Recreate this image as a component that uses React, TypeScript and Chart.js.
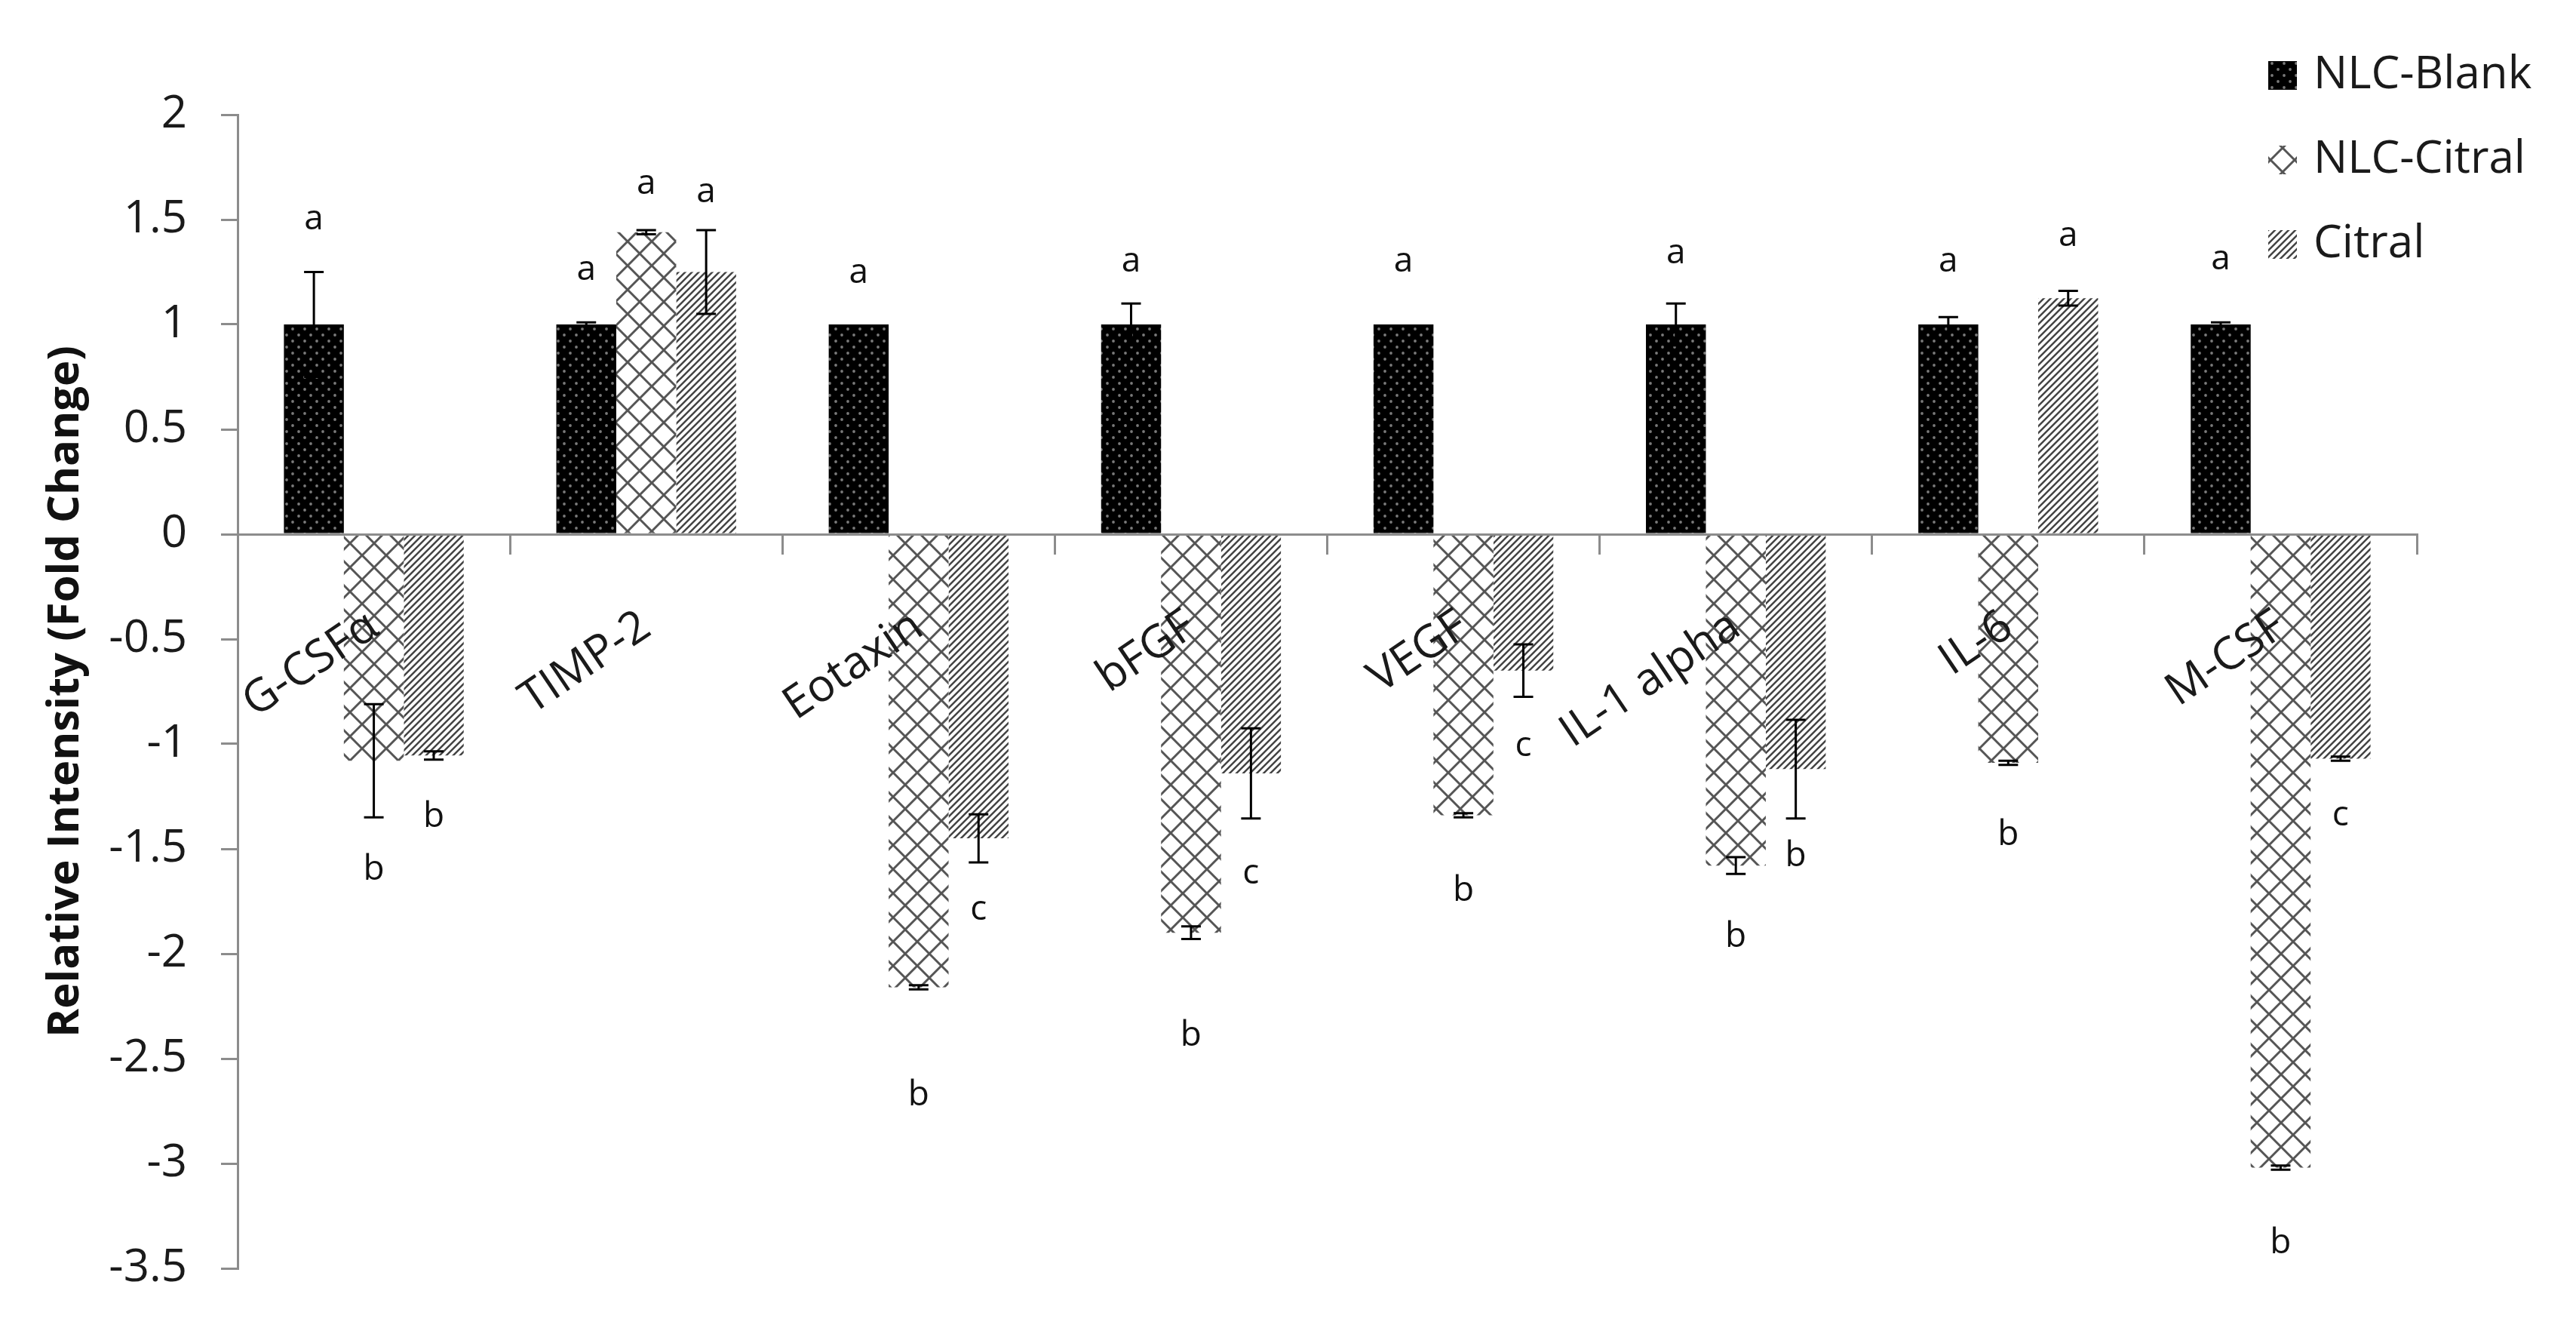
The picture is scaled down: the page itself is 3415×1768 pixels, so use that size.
import React, { useEffect, useRef } from 'react';
import { Chart, registerables } from 'chart.js';

Chart.register(...registerables);

// ---------------- data ----------------
const categories = ['G-CSFα', 'TIMP-2', 'Eotaxin', 'bFGF', 'VEGF', 'IL-1 alpha', 'IL-6', 'M-CSF'];
const seriesNames = ['NLC-Blank', 'NLC-Citral', 'Citral'];

const nlcBlank = [1, 1, 1, 1, 1, 1, 1, 1];
const nlcBlankErr = [0.25, 0.01, 0, 0.1, 0, 0.1, 0.035, 0.01];
const nlcBlankLetters = ['a', 'a', 'a', 'a', 'a', 'a', 'a', 'a'];
const nlcBlankLetterAt = [1.5, 1.26, 1.245, 1.3, 1.3, 1.34, 1.3, 1.31];

const nlcCitral = [-1.08, 1.44, -2.16, -1.9, -1.34, -1.58, -1.09, -3.02];
const nlcCitralErr = [0.27, 0.01, 0.01, 0.03, 0.01, 0.04, 0.01, 0.01];
const nlcCitralLetters = ['b', 'a', 'b', 'b', 'b', 'b', 'b', 'b'];
const nlcCitralLetterAt = [-1.6, 1.67, -2.675, -2.39, -1.7, -1.92, -1.435, -3.38];

const citral = [-1.055, 1.25, -1.45, -1.14, -0.65, -1.12, 1.125, -1.07];
const citralErr = [0.02, 0.2, 0.115, 0.215, 0.125, 0.235, 0.035, 0.01];
const citralLetters = ['b', 'a', 'c', 'c', 'c', 'b', 'a', 'c'];
const citralLetterAt = [-1.35, 1.63, -1.79, -1.62, -1.01, -1.535, 1.42, -1.34];

const yMin = -3.5;
const yMax = 2;
const yStep = 0.5;
const yTitle = 'Relative Intensity (Fold Change)';

// ---------------- styling ----------------
const FONT = '"Open Sans", "DejaVu Sans", sans-serif';
const AXIS_GRAY = '#8c8c8c';
const TEXT = '#1a1a1a';

function dotPattern(ctx: CanvasRenderingContext2D) {
  const c = document.createElement('canvas');
  c.width = 16; c.height = 16;
  const g = c.getContext('2d')!;
  g.fillStyle = '#000';
  g.fillRect(0, 0, 16, 16);
  g.fillStyle = '#7a7a7a';
  for (const [x, y] of [[4, 4], [12, 12]]) {
    g.beginPath(); g.arc(x, y, 1.9, 0, Math.PI * 2); g.fill();
  }
  return ctx.createPattern(c, 'repeat')!;
}

function crossPattern(ctx: CanvasRenderingContext2D) {
  const s = 32;
  const c = document.createElement('canvas');
  c.width = s; c.height = s;
  const g = c.getContext('2d')!;
  g.fillStyle = '#fff';
  g.fillRect(0, 0, s, s);
  g.strokeStyle = '#555';
  g.lineWidth = 3;
  g.beginPath();
  for (const dx of [-s, 0, s]) {
    g.moveTo(dx - 4, -4); g.lineTo(dx + s + 4, s + 4);
    g.moveTo(dx - 4, s + 4); g.lineTo(dx + s + 4, -4);
  }
  g.stroke();
  return ctx.createPattern(c, 'repeat')!;
}

function stripePattern(ctx: CanvasRenderingContext2D) {
  const s = 9;
  const c = document.createElement('canvas');
  c.width = s; c.height = s;
  const g = c.getContext('2d')!;
  g.fillStyle = '#fff';
  g.fillRect(0, 0, s, s);
  g.strokeStyle = '#444';
  g.lineWidth = 2.5;
  g.beginPath();
  for (const k of [0, s, 2 * s]) {
    g.moveTo(-2, k + 2); g.lineTo(k + 2, -2);
  }
  g.stroke();
  return ctx.createPattern(c, 'repeat')!;
}

export default function App() {
  const ref = useRef<HTMLCanvasElement>(null);

  useEffect(() => {
    const canvas = ref.current!;
    const ctx0 = canvas.getContext('2d')!;
    const patterns = [dotPattern(ctx0), crossPattern(ctx0), stripePattern(ctx0)];
    const legendCross = crossPattern(ctx0);
    try {
      legendCross.setTransform(new DOMMatrix().translate(3010, 212));
    } catch (e) { /* ignore */ }
    const legendPatterns = [patterns[0], legendCross, patterns[2]];
    const values = [nlcBlank, nlcCitral, citral];
    const errs = [nlcBlankErr, nlcCitralErr, citralErr];
    const letters = [nlcBlankLetters, nlcCitralLetters, citralLetters];
    const letterAt = [nlcBlankLetterAt, nlcCitralLetterAt, citralLetterAt];

    const overlay = {
      id: 'overlay',
      afterDatasetsDraw(chart: any) {
        const ctx = chart.ctx as CanvasRenderingContext2D;
        const ys = chart.scales.y;
        ctx.save();
        values.forEach((vals, i) => {
          const meta = chart.getDatasetMeta(i);
          meta.data.forEach((el: any, j: number) => {
            const x = el.x;
            const v = vals[j];
            const e = errs[i][j];
            if (e > 0) {
              const y1 = ys.getPixelForValue(v + e);
              const y2 = ys.getPixelForValue(v - e);
              ctx.strokeStyle = '#000';
              ctx.lineWidth = 3;
              ctx.beginPath();
              ctx.moveTo(x, y1); ctx.lineTo(x, y2);
              ctx.moveTo(x - 13, y1); ctx.lineTo(x + 13, y1);
              ctx.moveTo(x - 13, y2); ctx.lineTo(x + 13, y2);
              ctx.stroke();
            }
            ctx.fillStyle = '#111';
            ctx.font = `46px ${FONT}`;
            ctx.textAlign = 'center';
            ctx.textBaseline = 'middle';
            ctx.fillText(letters[i][j], x, ys.getPixelForValue(letterAt[i][j]));
          });
        });
        ctx.restore();
      },
      afterDraw(chart: any) {
        const ctx = chart.ctx as CanvasRenderingContext2D;
        ctx.save();
        seriesNames.forEach((name, i) => {
          const cy = 100 + i * 112;
          ctx.fillStyle = legendPatterns[i];
          ctx.fillRect(3007, cy - 19, 38, 38);
          ctx.fillStyle = TEXT;
          ctx.font = `60px ${FONT}`;
          ctx.textAlign = 'left';
          ctx.textBaseline = 'middle';
          ctx.fillText(name, 3067, cy);
        });
        ctx.restore();
      },
    };

    const chart = new Chart(canvas, {
      type: 'bar',
      data: {
        labels: categories,
        datasets: seriesNames.map((name, i) => ({
          label: name,
          data: values[i],
          backgroundColor: patterns[i],
          borderWidth: 0,
          categoryPercentage: 0.66,
          barPercentage: 1,
        })),
      },
      options: {
        animation: false,
        responsive: false,
        devicePixelRatio: 1,
        layout: { padding: { top: 152, right: 211, bottom: 87, left: 0 } },
        plugins: {
          legend: { display: false },
          tooltip: { enabled: false },
        },
        scales: {
          x: {
            position: { y: 0 },
            ticks: {
              autoSkip: false,
              minRotation: 34,
              maxRotation: 34,
              font: { family: FONT, size: 60 },
              color: TEXT,
              padding: 62,
              z: 1,
            },
            grid: {
              drawOnChartArea: false,
              drawTicks: true,
              tickLength: 25,
              color: AXIS_GRAY,
              lineWidth: 3,
              offset: true,
            },
            border: { display: true, color: AXIS_GRAY, width: 3, z: 1 },
          },
          y: {
            min: yMin,
            max: yMax,
            ticks: {
              stepSize: yStep,
              callback: (v: any) => String(Number(v)),
              font: { family: FONT, size: 60 },
              color: TEXT,
              padding: 45,
            },
            grid: {
              drawOnChartArea: false,
              drawTicks: true,
              tickLength: 22,
              color: AXIS_GRAY,
              lineWidth: 3,
            },
            border: { display: true, color: AXIS_GRAY, width: 3 },
            title: {
              display: true,
              text: yTitle,
              font: { family: FONT, size: 58, weight: 'bold' },
              color: '#111',
              padding: { top: 53, bottom: 0 },
            },
            afterFit: (s: any) => { s.width = 315; },
          },
        },
      },
      plugins: [overlay],
    } as any);

    return () => chart.destroy();
  }, []);

  return (
    <div style={{ position: 'absolute', left: 0, top: 0, width: 3415, height: 1768, background: '#fff' }}>
      <canvas ref={ref} width={3415} height={1768} style={{ display: 'block', width: 3415, height: 1768 }} />
    </div>
  );
}
